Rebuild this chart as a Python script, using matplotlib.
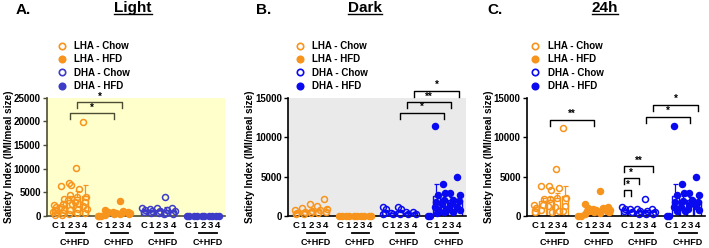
import matplotlib
matplotlib.use('Agg')
import matplotlib.pyplot as plt
from matplotlib.lines import Line2D
import numpy as np

plt.rcParams['font.family'] = ['Liberation Sans', 'DejaVu Sans']
plt.rcParams['font.weight'] = 'bold'

# ---------------- data ----------------
bar_labels = ['C', '1', '2', '3', '4']
series_names = ['LHA - Chow', 'LHA - HFD', 'DHA - Chow', 'DHA - HFD']
panel_titles = ['Light', 'Dark', '24h']
panel_letters = ['A.', 'B.', 'C.']

# Panel A - Light
light_means = [[1300, 2100, 3300, 4000, 4200],
               [0, 800, 600, 1000, 600],
               [1100, 1100, 1200, 1300, 1000],
               [0, 0, 0, 0, 0]]
light_err = [[300, 800, 900, 1200, 2300],
             [0, 200, 100, 500, 100],
             [150, 150, 200, 600, 200],
             [0, 0, 0, 0, 0]]
light_points = [
    [[2300, 1800, 1200, 900, 600, 300], [6400, 3600, 2500, 1900, 1200, 700, 300],
     [7000, 6500, 4500, 3300, 2500, 1200, 500], [10100, 5800, 4000, 3000, 2500, 1500, 600],
     [19800, 4000, 3000, 2200, 1500, 700]],
    [[0, 0, 0], [1200, 900, 600, 300], [800, 600, 400], [3100, 1000, 700, 400], [900, 600, 400]],
    [[1600, 1200, 800], [1500, 1000, 600], [1700, 1100, 700], [4000, 1200, 700, 500], [1600, 1100, 500]],
    [[0, 0], [0, 0], [0, 0], [0, 0], [0, 0]],
]

# Panel B - Dark
dark_means = [[500, 600, 700, 700, 800],
              [0, 0, 0, 0, 0],
              [600, 350, 600, 400, 400],
              [0, 2500, 2200, 2000, 2000]]
dark_err = [[100, 150, 200, 200, 300],
            [0, 0, 0, 0, 0],
            [150, 50, 150, 80, 80],
            [0, 1600, 500, 400, 600]]
dark_points = [
    [[700, 400, 200], [1000, 500, 300], [1500, 600, 400], [1300, 700, 400], [2200, 900, 500]],
    [[0, 0], [0, 0], [0, 0], [0, 0], [0, 0]],
    [[1200, 900, 400, 200], [400, 300], [1100, 900, 300], [500, 200], [500, 200]],
    [[0, 0], [11400, 2600, 1800, 1200, 800, 400], [4000, 2900, 2000, 1500, 900, 500],
     [2900, 2000, 1500, 900, 500], [5000, 2600, 1900, 1200, 700]],
]

# Panel C - 24h
day_means = [[900, 1900, 2000, 2300, 2500],
             [0, 800, 700, 900, 700],
             [700, 600, 600, 500, 600],
             [0, 2500, 2000, 2000, 1900]]
day_err = [[200, 400, 400, 600, 1300],
           [0, 200, 100, 400, 100],
           [100, 100, 100, 300, 100],
           [0, 1600, 500, 400, 600]]
day_points = [
    [[1400, 1000, 550], [3800, 2100, 1400, 760], [3800, 3300, 2200, 1300, 500],
     [5900, 3500, 2300, 1200, 600], [11100, 2300, 1300, 600]],
    [[0, 0], [1500, 1000, 600, 300], [900, 700, 500], [3200, 1000, 700, 400], [1100, 800, 500]],
    [[1100, 900, 600], [900, 500], [900, 600, 300], [2100, 600, 300], [900, 500, 300]],
    [[0, 0], [11400, 2700, 1800, 1200, 600], [4000, 2900, 1900, 1200, 600],
     [2900, 2000, 1500, 900], [5000, 2600, 1800, 1300, 700]],
]

ymaxes = [25000, 15000, 15000]

# significance brackets: (group, bar) start, (group, bar) end, height, label
light_sig = [((0, 2), (1, 2), 21700, '*'), ((0, 3), (1, 3), 24000, '*')]
dark_sig = [((2, 2), (3, 2), 13100, '*'), ((2, 3), (3, 3), 14400, '**'), ((2, 4), (3, 4), 15900, '*')]
day_sig = [((0, 2), (1, 2), 12200, '**'), ((2, 0), (2, 1), 3300, '*'), ((2, 0), (2, 2), 4800, '*'),
           ((2, 0), (2, 4), 6300, '**'), ((2, 3), (3, 3), 12600, '*'), ((2, 4), (3, 4), 14100, '*')]

# ---------------- style ----------------
W, H = 709, 248
fig = plt.figure(figsize=(W / 100, H / 100), dpi=100)

ORANGE = '#F7941D'
BLUE_A = '#3C3CC8'
BLUE = '#0A0AF0'
GSTEP = 6
offs = [-0.18, 0.18, 0.0, -0.25, 0.25, 0.05, -0.1]

panels = [
    dict(means=light_means, err=light_err, pts=light_points, sig=light_sig, bg='#FFFFCC',
         axc='#4D4D33', blue=BLUE_A, left=47, leg=62, title_x=133, letter_x=16),
    dict(means=dark_means, err=dark_err, pts=dark_points, sig=dark_sig, bg='#EAEAEA',
         axc='black', blue=BLUE, left=288, leg=300, title_x=365, letter_x=256),
    dict(means=day_means, err=day_err, pts=day_points, sig=day_sig, bg='white',
         axc='black', blue=BLUE, left=527, leg=535, title_x=605, letter_x=487),
]

ax_top, ax_bot = 97.7, 216.0
title_texts = []
for p_i, P in enumerate(panels):
    ax = fig.add_axes([P['left'] / W, 1 - ax_bot / H, 178 / W, (ax_bot - ax_top) / H])
    ax.set_facecolor(P['bg'])
    ymax = ymaxes[p_i]
    colors = [ORANGE, ORANGE, P['blue'], P['blue']]
    filled = [False, True, False, True]
    xt, xl = [], []
    for g in range(4):
        xs = np.arange(5) + g * GSTEP
        ax.bar(xs, P['means'][g], width=0.85, facecolor='none', edgecolor=colors[g], lw=1.0, zorder=2)
        ax.errorbar(xs, P['means'][g], yerr=[np.zeros(5), P['err'][g]], fmt='none',
                    ecolor=colors[g], elinewidth=0.9, capsize=1.8, capthick=0.9, zorder=2)
        for b in range(5):
            vals = P['pts'][g][b]
            px = [xs[b] + offs[k % len(offs)] for k in range(len(vals))]
            ax.plot(px, vals, 'o', ls='none', ms=4.3, mew=1.1, mec=colors[g],
                    mfc=colors[g] if filled[g] else 'none', clip_on=False, zorder=3)
        xt += list(xs)
        xl += bar_labels
        # underline & C+HFD
        tr = ax.get_xaxis_transform()
        ax.plot([g * GSTEP + 1.5, g * GSTEP + 3.9], [-0.145, -0.145], color='black', lw=1.3,
                transform=tr, clip_on=False)
        ax.text(g * GSTEP + 2.6, -0.22, 'C+HFD', transform=tr, ha='center', va='center',
                fontsize=6.5, fontweight='bold')
    ax.set_xticks(xt)
    ax.set_xticklabels(xl, fontsize=6.8, fontweight='bold')
    ax.tick_params(axis='x', length=0, pad=3.5)
    ax.set_xlim(-1.1, 23.0)
    ax.set_ylim(0, ymax)
    ax.set_yticks(np.arange(0, ymax + 1, 5000))
    ax.tick_params(axis='y', length=3, width=1.0, color=P['axc'], labelsize=7, pad=1.5)
    for lab in ax.get_yticklabels():
        lab.set_fontweight('bold')
    for s in ['top', 'right']:
        ax.spines[s].set_visible(False)
    for s in ['left', 'bottom']:
        ax.spines[s].set_color(P['axc'])
        ax.spines[s].set_linewidth(1.2)
    # brackets
    leg_len = ymax / 118.3 * 6
    for (g1, b1), (g2, b2), yv, lab in P['sig']:
        x1, x2 = g1 * GSTEP + b1, g2 * GSTEP + b2
        ax.plot([x1, x1, x2, x2], [yv - leg_len, yv, yv, yv - leg_len], color=P['axc'], lw=1.0,
                clip_on=False, zorder=4)
        ax.text((x1 + x2) / 2, yv + ymax * 0.005, lab, ha='center', va='bottom', fontsize=7,
                fontweight='bold', color='black')
    # legend
    handles = [Line2D([], [], marker='o', ls='none', ms=4.6, mew=1.2, mec=colors[k],
                      mfc=colors[k] if filled[k] else 'none') for k in range(4)]
    ax.legend(handles, series_names, loc='upper left', bbox_to_anchor=((P['leg'] - 5) / W, 1 - 41 / H),
              bbox_transform=fig.transFigure, frameon=False, fontsize=7, handlelength=1.0,
              handletextpad=0.8, labelspacing=0.35, borderpad=0, borderaxespad=0,
              prop={'weight': 'bold', 'size': 7})
    # y label
    fig.text((P['left'] - 38) / W, 1 - 157 / H, 'Satiety Index (IMI/meal size)', rotation=90,
             ha='center', va='center', fontsize=7.2, fontweight='bold')
    # title & letter
    t = fig.text(P['title_x'] / W, 1 - 8 / H, panel_titles[p_i], ha='center', va='center',
                 fontsize=11, fontweight='bold')
    title_texts.append(t)
    fig.text(P['letter_x'] / W, 1 - 10 / H, panel_letters[p_i], ha='left', va='center',
             fontsize=11, fontweight='bold')

fig.canvas.draw()
r = fig.canvas.get_renderer()
for t in title_texts:
    bb = t.get_window_extent(r)
    yline = (H - 13.5) / H
    fig.add_artist(Line2D([bb.x0 / W, bb.x1 / W], [yline, yline], color='black', lw=1.0,
                          transform=fig.transFigure))

fig.savefig('out.png', dpi=100)
